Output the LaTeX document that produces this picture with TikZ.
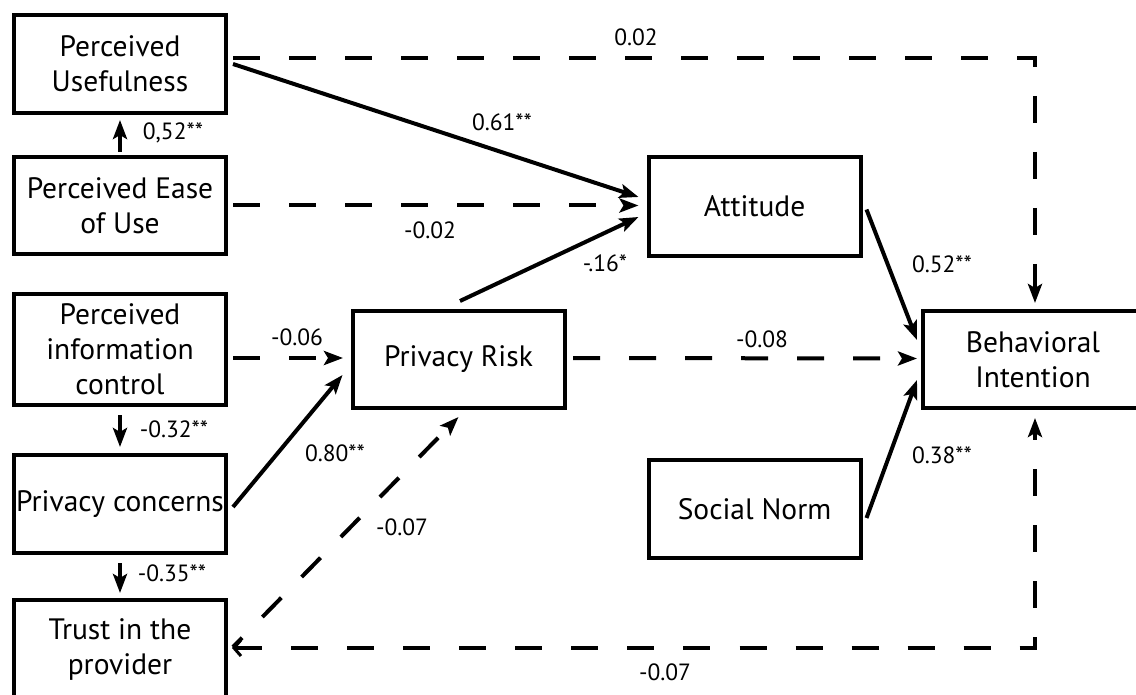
\documentclass[tikz,border=0pt]{standalone}
\usepackage{fontspec}
\setmainfont{PT Sans}
\usetikzlibrary{arrows.meta}
\begin{document}
\begin{tikzpicture}[x=1pt,y=-1pt,
  box/.style={draw, line width=4pt, inner sep=0pt, align=center,
    font=\fontsize{29.5}{35}\selectfont, minimum width=212pt, minimum height=97pt},
  conn/.style={line width=4pt, line cap=butt, -{Stealth[length=19pt,width=14pt,inset=4pt]}},
  dsh/.style={conn, dash pattern=on 27pt off 29pt},
  lbl/.style={font=\fontsize{23.5}{27}\selectfont, inner sep=0pt}]
\useasboundingbox (0,0) rectangle (1136,695);
\clip (0,0) rectangle (1136,695);
% boxes
\node[box, minimum height=98pt] (PU) at (120,64) {Perceived\\Usefulness};
\node[box] (PEOU) at (120,205.5) {Perceived Ease\\of Use};
\node[box, minimum height=111pt] (PIC) at (120,349.5) {Perceived\\information\\control};
\node[box, minimum height=98pt] (PC) at (120,504) {Privacy concerns};
\node[box, minimum height=100pt, anchor=north] (TR) at (120,598) {Trust in the\\provider};
\node[box] (PR) at (458.5,359.5) {Privacy Risk};
\node[box, minimum height=99pt] (AT) at (754.5,206.5) {Attitude};
\node[box, minimum height=98pt] (SN) at (754.5,509) {Social Norm};
\node[box, minimum width=220pt] (BI) at (1033,359.5) {Behavioral\\Intention};
% connectors
\draw[dsh] ([xshift=5pt,yshift=6pt]PU.east) -| ([xshift=2pt,yshift=6pt]BI.north);
\draw[conn] ([xshift=5pt]PU.east) -- ([xshift=-8pt,yshift=9.5pt]AT.west);
\draw[dsh] ([xshift=5pt]PEOU.east) -- ([xshift=-8pt,yshift=1pt]AT.west);
\draw[conn] ([xshift=1.5pt,yshift=8pt]PR.north) -- ([xshift=-8pt,yshift=-10.5pt]AT.west);
\draw[conn] ([xshift=4pt,yshift=-3pt]AT.east) -- ([xshift=-4pt,yshift=19.5pt]BI.west);
\draw[dsh] ([xshift=6.5pt,yshift=1.5pt]PR.east) -- ([xshift=-4pt,yshift=1pt]BI.west);
\draw[conn] ([xshift=4pt,yshift=-9pt]SN.east) -- ([xshift=-4pt,yshift=-20.5pt]BI.west);
\draw[dsh] ([xshift=5pt,yshift=-8.5pt]PIC.east) -- ([xshift=-7.5pt,yshift=1.5pt]PR.west);
\draw[conn] ([xshift=5pt,yshift=-3pt]PC.east) -- ([xshift=-8pt,yshift=-15.5pt]PR.west);
\draw[dsh, dash phase=14pt] ([xshift=5pt,yshift=3pt]TR.east) -- ([yshift=-7pt]PR.south);
\draw[dsh, {Straight Barb[length=7pt,width=16pt,line width=3pt]}-{Stealth[length=19pt,width=14pt,inset=4pt]}]
  ([xshift=4pt,yshift=2pt]TR.east) -| ([xshift=2pt,yshift=-8pt]BI.south);
\draw[conn] ([yshift=3pt]PEOU.north) -- ([yshift=-5pt]PU.south);
\draw[conn] ([yshift=-8pt]PIC.south) -- ([yshift=6pt]PC.north);
\draw[conn] ([yshift=-8pt]PC.south) -- ([yshift=5pt]TR.north);
% labels
\node[lbl] (l1) at (636,37) {0.02};
\node[lbl] (l2) at (502,122) {0.61**};
\node[lbl] (l3) at (430,230) {-0.02};
\node[lbl] (l4) at (605,263) {-.16*};
\node[lbl] (l5) at (942,264) {0.52**};
\node[lbl] (l6) at (762,339) {-0.08};
\node[lbl] (l7) at (297,337) {-0.06};
\node[lbl] (l8) at (335,453) {0.80**};
\node[lbl] (l9) at (402,527) {-0.07};
\node[lbl] (l10) at (942,455) {0.38**};
\node[lbl] (l11) at (665,672) {-0.07};
\node[lbl] (l12) at (173,133) {0,52**};
\node[lbl] (l13) at (174,429) {-0.32**};
\node[lbl] (l14) at (172,573) {-0.35**};
\end{tikzpicture}
\end{document}
